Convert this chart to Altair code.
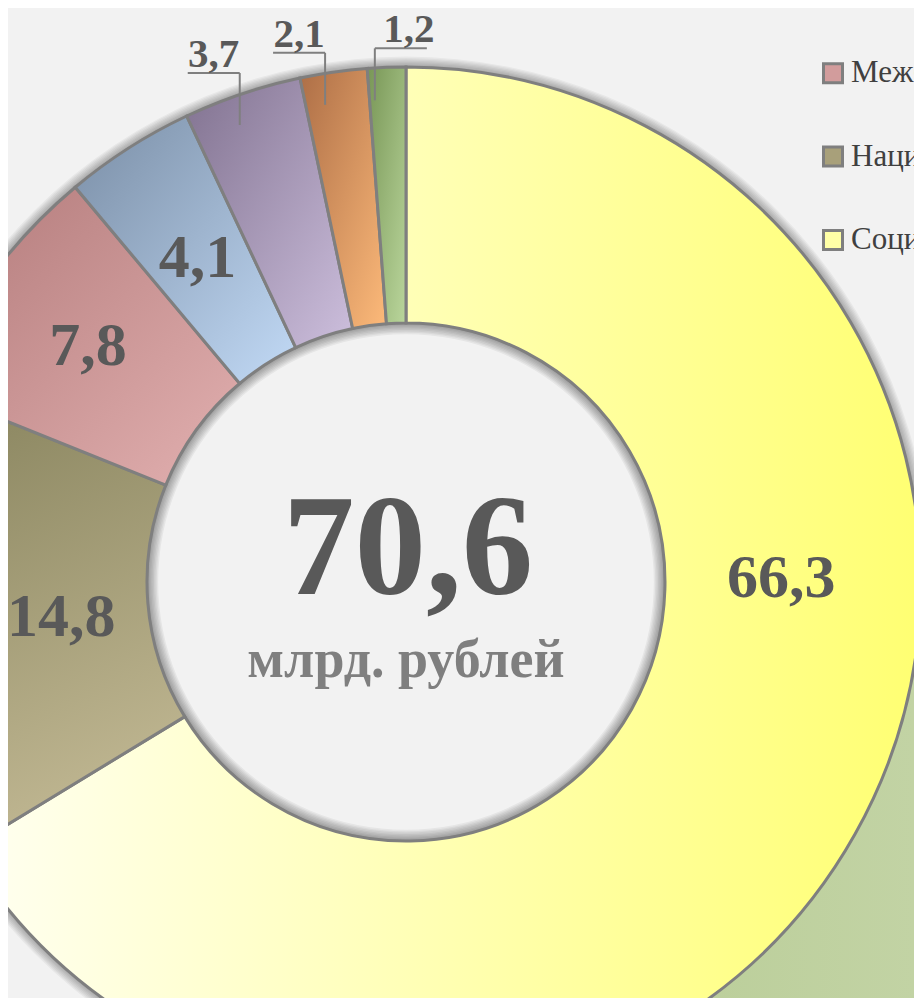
import math
import altair as alt
import pandas as pd

# ---------------- data ----------------
CATEGORIES = [
    "Социальная сфера",
    "Национальная экономика",
    "Межбюджетные трансферты",
    "Общегосударственные вопросы",
    "Жилищно-коммунальное хозяйство",
    "Обслуживание государственного долга",
    "Прочие расходы",
]
SHARES = [66.3, 14.8, 7.8, 4.1, 3.7, 2.1, 1.2]
TOTAL_TEXT = "70,6"
UNIT_TEXT = "млрд. рублей"

# ---------------- styles ----------------
SERIF = "Liberation Serif"
BG = "#f2f2f2"
GRADIENTS = [  # (start colour, end colour, x1, y1, x2, y2)
    ("#fffff2", "#ffff72", 0, 0, 1, 0),
    ("#85815b", "#beb590", 0, 0, 0.3, 1),
    ("#b27a7a", "#e2b0b0", 0, 0, 1, 1),
    ("#7a8ea6", "#c2daf6", 0, 0, 1, 1),
    ("#817290", "#cdbfdd", 0, 0, 1, 1),
    ("#ad6e46", "#fdba7a", 0, 0, 1, 1),
    ("#789656", "#bad69c", 0, 0, 1, 1),
]
LEGEND_COLORS = ["#ffffa6", "#a8a07a", "#d29c9c", "#a4b8d2", "#ad9fc0", "#dd9a62", "#a0bc80"]
LABEL_SHIFT = [(38, -194), (41, 3), (-5, -9), (0, 2)]

W, H = 906, 990
CX, CY = 398, 574
R_OUT, R_IN = 515, 259
RL = 387  # inner label radius
RA = 482  # leader anchor radius
FULL = 2 * math.pi

df = pd.DataFrame({"category": CATEGORIES, "value": SHARES, "idx": list(range(len(SHARES)))})

base = (
    alt.Chart(df)
    .transform_window(cum="sum(value)", sort=[alt.SortField("idx", order="ascending")])
    .transform_joinaggregate(total="sum(value)")
    .transform_calculate(
        t0="2*PI*(datum.cum-datum.value)/datum.total",
        t1="2*PI*datum.cum/datum.total",
    )
    .transform_calculate(
        tm="(datum.t0+datum.t1)/2",
        label="replace(format(datum.value, '.1f'), '.', ',')",
    )
)

one = alt.Chart(pd.DataFrame({"k": [0]}))
layers = []

# outer soft shadow (stacked translucent annuli)
for k in range(1, 9):
    layers.append(
        one.mark_arc(theta=0, theta2=FULL, radius=R_OUT + 1.3 * k, radius2=R_OUT - 2,
                     fill="black", fillOpacity=0.045, strokeWidth=0)
        .encode(x=alt.value(CX), y=alt.value(CY))
    )

# green background block (bottom right)
layers.append(
    one.mark_rect(
        fill=alt.LinearGradient(
            gradient="linear",
            stops=[alt.GradientStop(color="#b9cd97", offset=0), alt.GradientStop(color="#c2d3a4", offset=1)],
            x1=0, y1=0, x2=1, y2=0,
        )
    )
    .encode(x=alt.value(600), x2=alt.value(W), y=alt.value(502), y2=alt.value(H))
)

# hole: background disc + inner shadow
layers.append(
    one.mark_arc(theta=0, theta2=FULL, radius=R_IN, fill=BG, strokeWidth=0)
    .encode(x=alt.value(CX), y=alt.value(CY))
)
for k in range(1, 9):
    layers.append(
        one.mark_arc(theta=0, theta2=FULL, radius=R_IN + 2, radius2=R_IN - 1.4 * k,
                     fill="black", fillOpacity=0.05, strokeWidth=0)
        .encode(x=alt.value(CX), y=alt.value(CY))
    )

# slices
for i, (c0, c1, x1, y1, x2, y2) in enumerate(GRADIENTS):
    grad = alt.LinearGradient(
        gradient="linear",
        stops=[alt.GradientStop(color=c0, offset=0), alt.GradientStop(color=c1, offset=1)],
        x1=x1, y1=y1, x2=x2, y2=y2,
    )
    layers.append(
        base.transform_filter(alt.datum.idx == i)
        .mark_arc(fill=grad, stroke="#7f7f7f", strokeWidth=3, radius=R_OUT, radius2=R_IN)
        .encode(
            theta=alt.Theta("t0:Q", scale=None),
            theta2="t1:Q",
            x=alt.value(CX),
            y=alt.value(CY),
        )
    )

# inner labels
for i, (dx, dy) in enumerate(LABEL_SHIFT):
    layers.append(
        base.transform_filter(alt.datum.idx == i)
        .transform_calculate(lx=f"{CX}+{RL}*sin(datum.tm)", ly=f"{CY}-{RL}*cos(datum.tm)")
        .mark_text(
            font=SERIF, fontWeight="bold", fontSize=62, color="#595959",
            align="center", baseline="middle", dx=dx, dy=dy,
        )
        .encode(x=alt.X("lx:Q", scale=None), y=alt.Y("ly:Q", scale=None), text="label:N")
    )

# outer labels with leader lines
outer = (
    base.transform_filter(alt.datum.idx >= 4)
    .transform_calculate(ax=f"{CX}+{RA}*sin(datum.tm)-13", ay=f"{CY}-{RA}*cos(datum.tm)")
    .transform_calculate(ty="datum.ay-52", hx0="datum.idx==6 ? datum.ax : datum.ax-52")
    .transform_calculate(hx1="datum.hx0+52", hxm="datum.idx==6 ? datum.hx0+34 : datum.hx0+26")
)
layers.append(
    outer.mark_rule(color="#7f7f7f", strokeWidth=2).encode(
        x=alt.X("ax:Q", scale=None), y=alt.Y("ay:Q", scale=None), y2="ty:Q"
    )
)
layers.append(
    outer.mark_rule(color="#7f7f7f", strokeWidth=2).encode(
        x=alt.X("hx0:Q", scale=None), x2="hx1:Q", y=alt.Y("ty:Q", scale=None)
    )
)
layers.append(
    outer.mark_text(
        font=SERIF, fontWeight="bold", fontSize=41, color="#595959",
        align="center", baseline="alphabetic", dy=-6,
    ).encode(x=alt.X("hxm:Q", scale=None), y=alt.Y("ty:Q", scale=None), text="label:N")
)

# legend (reversed order, partly outside the frame)
leg = base.transform_calculate(gy="232 - datum.idx*83.4")
layers.append(
    leg.mark_square(size=19 * 19, stroke="#7f7f7f", strokeWidth=3, filled=True, opacity=1).encode(
        x=alt.value(825),
        y=alt.Y("gy:Q", scale=None),
        color=alt.Color("category:N", scale=alt.Scale(domain=CATEGORIES, range=LEGEND_COLORS), legend=None),
    )
)
layers.append(
    leg.mark_text(font=SERIF, fontSize=31, color="#404040", align="left", baseline="middle").encode(
        x=alt.value(843), y=alt.Y("gy:Q", scale=None), text="category:N"
    )
)

# centre texts
center = alt.Chart(pd.DataFrame({"total": [TOTAL_TEXT], "unit": [UNIT_TEXT]}))
layers.append(
    center.mark_text(font=SERIF, fontWeight="bold", fontSize=143, color="#595959",
                     align="center", baseline="alphabetic")
    .encode(x=alt.value(CX + 2), y=alt.value(586), text="total:N")
)
layers.append(
    center.mark_text(font=SERIF, fontWeight="bold", fontSize=54, color="#7f7f7f",
                     align="center", baseline="alphabetic")
    .encode(x=alt.value(CX), y=alt.value(669), text="unit:N")
)

chart = (
    alt.layer(*layers)
    .properties(width=W, height=H, autosize=alt.AutoSizeParams(type="none"), padding=0,
                background=BG)
    .configure_view(stroke=None)
)

chart.save("out.html", embed_options={"renderer": "svg", "actions": False})
